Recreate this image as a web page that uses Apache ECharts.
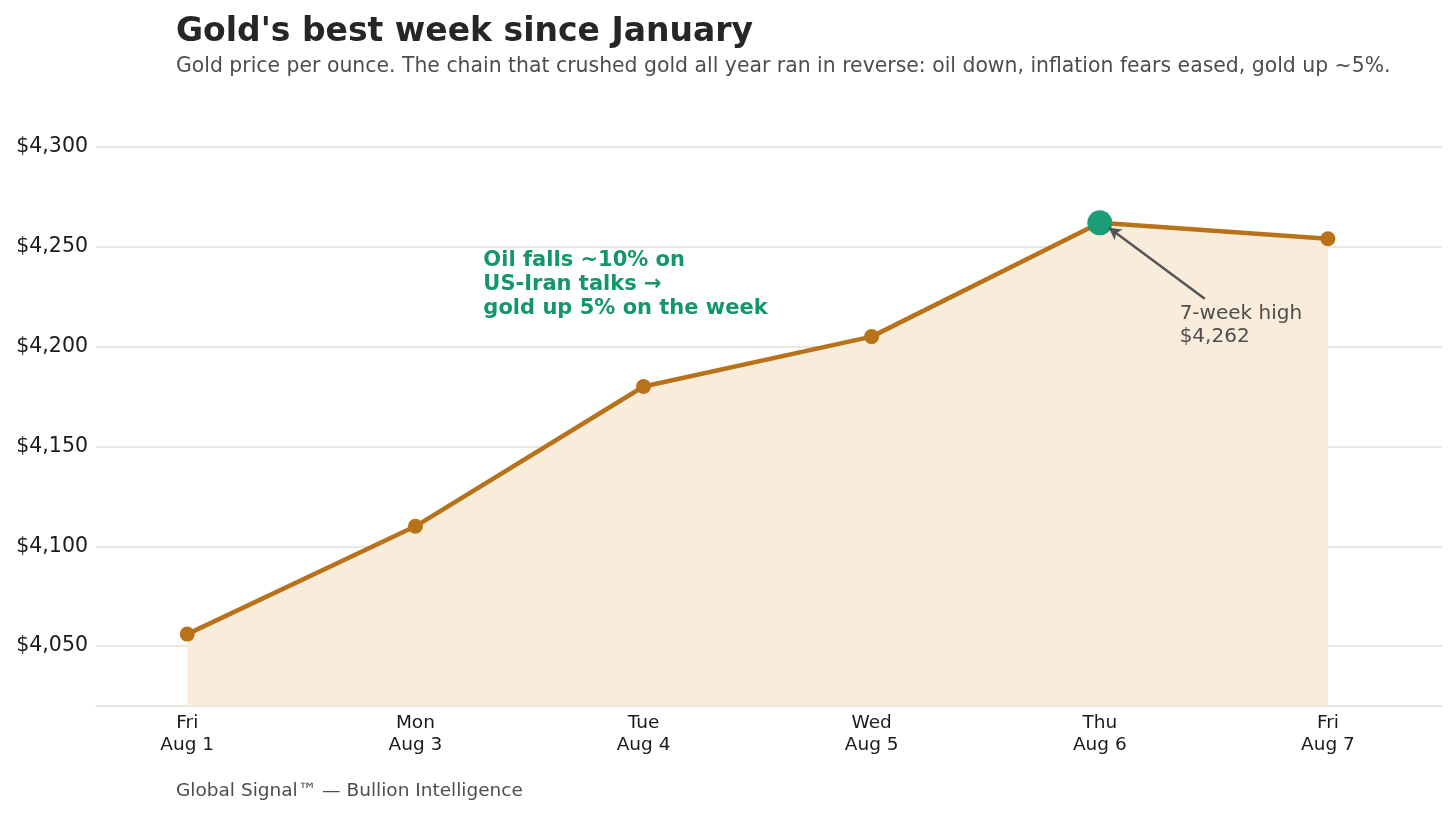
<!DOCTYPE html>
<html>
<head>
    <meta charset="utf-8">
    <title>Gold's best week since January</title>
    <script src="https://cdn.jsdelivr.net/npm/echarts@6/dist/echarts.min.js"></script>
    <style>
        html, body { margin: 0; padding: 0; background: #fff; font-family: "DejaVu Sans", sans-serif; }
        #main { width: 1456px; height: 817px; }
    </style>
</head>
<body>
    <div id="main"></div>
</body>
</html>

<script type="text/javascript">
    // data
    var days = ['Fri\nAug 1', 'Mon\nAug 3', 'Tue\nAug 4', 'Wed\nAug 5', 'Thu\nAug 6', 'Fri\nAug 7'];
    var prices = [4056, 4110, 4180, 4205, 4262, 4254];
    var yTicks = [4050, 4100, 4150, 4200, 4250, 4300];
    var highIndex = 4;

    var FONT = '"DejaVu Sans", sans-serif';

    var chart = echarts.init(document.getElementById('main'));

    var seriesData = prices.map(function (p, i) {
        var item = { value: [i, p] };
        if (i === highIndex) {
            item.symbolSize = 25;
            item.itemStyle = { color: '#1b9e77' };
        }
        return item;
    });

    function money(v) {
        return '$' + String(v).replace(/\B(?=(\d{3})+(?!\d))/g, ',');
    }

    var option = {
        backgroundColor: '#ffffff',
        animation: false,
        textStyle: { fontFamily: FONT },
        title: {
            left: 176,
            top: 16,
            padding: 0,
            text: "Gold's best week since January",
            subtext: 'Gold price per ounce. The chain that crushed gold all year ran in reverse: oil down, inflation fears eased, gold up ~5%.',
            itemGap: 8,
            textStyle: { fontFamily: FONT, fontSize: 33, fontWeight: 'bold', color: '#262626' },
            subtextStyle: { fontFamily: FONT, fontSize: 20.4, color: '#4d4d4d' }
        },
        grid: { left: 96, right: 14, top: 107, bottom: 111 },
        xAxis: {
            type: 'value',
            min: -0.4,
            max: 5.5,
            splitLine: { show: false },
            axisTick: { show: false },
            axisLine: { show: true, lineStyle: { color: '#e0ddd5', width: 1.5 } },
            axisLabel: {
                customValues: days.map(function (d, i) { return i; }),
                formatter: function (v) { return days[Math.round(v)] || ''; },
                fontFamily: FONT,
                fontSize: 18.5,
                lineHeight: 22,
                color: '#1a1a1a',
                margin: 6
            }
        },
        yAxis: {
            type: 'value',
            min: 4020,
            max: 4320,
            splitLine: { show: false },
            axisTick: { show: false },
            axisLine: { show: false },
            axisLabel: {
                customValues: yTicks,
                formatter: function (v) { return money(v); },
                fontFamily: FONT,
                fontSize: 20.5,
                color: '#1a1a1a',
                padding: [5, 0, 0, 0],
                margin: 8
            }
        },
        series: [{
            // gridlines, kept beneath the filled area
            type: 'line',
            z: 1,
            silent: true,
            symbol: 'none',
            data: seriesData.map(function (d) { return d.value; }),
            lineStyle: { opacity: 0 },
            markLine: {
                z: 1,
                silent: true,
                symbol: 'none',
                label: { show: false },
                lineStyle: { color: '#e2dfd8', width: 1.5, type: 'solid' },
                data: yTicks.map(function (t) { return { yAxis: t }; })
            }
        }, {
            type: 'line',
            z: 3,
            data: seriesData,
            symbol: 'circle',
            symbolSize: 15,
            showAllSymbol: true,
            lineStyle: { color: '#b8721a', width: 4.5 },
            itemStyle: { color: '#b8721a' },
            areaStyle: { color: '#f9ecda', opacity: 1, origin: 'start' },
            markLine: {
                silent: true,
                symbol: ['none', 'arrow'],
                symbolSize: [10, 12],
                label: { show: false },
                lineStyle: { color: '#555555', width: 2.5, type: 'solid' },
                data: [[{ coord: [4.46, 4224] }, { coord: [4.04, 4259.5] }]]
            },
            markPoint: {
                silent: true,
                symbol: 'circle',
                symbolSize: 0,
                data: [{
                    coord: [1.298, 4249],
                    label: {
                        show: true,
                        position: [0, 0],
                        align: 'left',
                        verticalAlign: 'top',
                        formatter: 'Oil falls ~10% on\nUS-Iran talks \u2192\ngold up 5% on the week',
                        fontFamily: FONT,
                        fontSize: 21,
                        fontWeight: 'bold',
                        lineHeight: 24,
                        color: '#139669'
                    }
                }, {
                    coord: [4.35, 4222],
                    label: {
                        show: true,
                        position: [0, 0],
                        align: 'left',
                        verticalAlign: 'top',
                        formatter: '7-week high\n' + money(prices[highIndex]),
                        fontFamily: FONT,
                        fontSize: 20,
                        lineHeight: 23,
                        color: '#4d4d4d'
                    }
                }]
            }
        }],
        graphic: [{
            type: 'text',
            left: 176,
            top: 782,
            style: {
                text: 'Global Signal\u2122 \u2014 Bullion Intelligence',
                fontFamily: FONT,
                fontSize: 18.5,
                fill: '#4d4d4d'
            }
        }]
    };

    chart.setOption(option);
</script>
